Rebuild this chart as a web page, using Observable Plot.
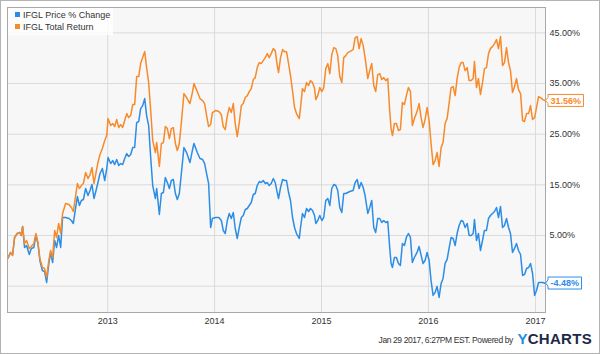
<!DOCTYPE html>
<html><head><meta charset="utf-8">
<script src="https://cdn.jsdelivr.net/npm/d3@7"></script>
<script src="https://cdn.jsdelivr.net/npm/@observablehq/plot@0.6"></script>
<style>
  body { margin: 0; background: #fff; }
  #wrap { position: relative; width: 600px; height: 354px; overflow: hidden; font-family: "Liberation Sans", Arial, sans-serif; }
  #chart { position: absolute; left: 0; top: 0; }
  #border { position: absolute; left: 0; top: 0; width: 600px; height: 354px; box-sizing: border-box; border: 1px solid #b4b4b4; pointer-events: none; }
  #legend { position: absolute; left: 8px; top: 8px; width: 105px; height: 27px; background: rgba(255,255,255,0.8); font-size: 9px; color: #333; }
  .li { position: absolute; left: 7px; height: 11px; line-height: 11px; white-space: nowrap; }
  .sw { display: inline-block; width: 5px; height: 5px; margin-right: 3px; vertical-align: 1px; }
  #caption { position: absolute; right: 8px; top: 330px; height: 16px; white-space: nowrap; }
  #stamp { font-family: "Liberation Sans", Arial, sans-serif; font-size: 8.5px; letter-spacing: -0.4px; color: #333; vertical-align: 1px; }
  #logo { font-family: "Liberation Sans", Arial, sans-serif; font-weight: bold; font-size: 15px; letter-spacing: 0.3px; }
</style>
</head><body>
<div id="wrap">
  <div id="chart"></div>
  <div id="legend"></div>
  <div id="caption"><span id="stamp"></span> <span id="logo"><span style="color:#1e8fe1">Y</span><span style="color:#1c2a48">CHARTS</span></span></div>
  <div id="border"></div>
</div>
<script>
// ---- data (decimal years, values in %) ----
const years = [
2012.068,2012.093,2012.112,2012.131,2012.156,2012.180,2012.193,2012.206,2012.224,2012.243,
2012.268,2012.287,2012.311,2012.330,2012.349,2012.367,2012.390,2012.411,2012.430,2012.451,
2012.467,2012.486,2012.505,2012.523,2012.542,2012.561,2012.579,2012.607,2012.638,2012.661,
2012.679,2012.701,2012.717,2012.736,2012.754,2012.773,2012.794,2012.816,2012.835,2012.853,
2012.872,2012.891,2012.909,2012.928,2012.950,2012.972,2012.991,2013.003,2013.028,2013.047,
2013.065,2013.084,2013.103,2013.121,2013.140,2013.159,2013.178,2013.196,2013.215,2013.234,
2013.252,2013.271,2013.290,2013.308,2013.327,2013.346,2013.364,2013.383,2013.402,2013.421,
2013.446,2013.458,2013.483,2013.502,2013.521,2013.539,2013.558,2013.577,2013.595,2013.614,
2013.633,2013.651,2013.670,2013.689,2013.713,2013.738,2013.769,2013.792,2013.807,2013.838,
2013.863,2013.888,2013.907,2013.925,2013.944,2013.963,2013.979,2014.009,2014.040,2014.063,
2014.081,2014.100,2014.119,2014.137,2014.156,2014.175,2014.193,2014.212,2014.231,2014.250,
2014.268,2014.287,2014.306,2014.324,2014.343,2014.362,2014.380,2014.399,2014.418,2014.436,
2014.455,2014.474,2014.493,2014.511,2014.530,2014.549,2014.567,2014.586,2014.598,2014.617,
2014.636,2014.654,2014.673,2014.692,2014.710,2014.729,2014.748,2014.766,2014.792,2014.804,
2014.822,2014.841,2014.860,2014.879,2014.897,2014.916,2014.935,2014.947,2014.965,2014.984,
2015.003,2015.021,2015.040,2015.059,2015.078,2015.096,2015.115,2015.134,2015.152,2015.171,
2015.190,2015.208,2015.227,2015.246,2015.264,2015.296,2015.315,2015.334,2015.352,2015.371,
2015.390,2015.408,2015.433,2015.451,2015.470,2015.489,2015.507,2015.526,2015.545,2015.564,
2015.582,2015.601,2015.620,2015.638,2015.651,2015.664,2015.682,2015.701,2015.720,2015.738,
2015.757,2015.776,2015.794,2015.813,2015.832,2015.850,2015.869,2015.894,2015.913,2015.932,
2015.950,2015.969,2015.988,2016.007,2016.025,2016.044,2016.063,2016.081,2016.100,2016.119,
2016.137,2016.156,2016.175,2016.193,2016.212,2016.231,2016.250,2016.268,2016.287,2016.306,
2016.324,2016.343,2016.362,2016.380,2016.399,2016.418,2016.430,2016.449,2016.467,2016.486,
2016.505,2016.523,2016.542,2016.561,2016.579,2016.598,2016.617,2016.636,2016.654,2016.673,
2016.692,2016.710,2016.729,2016.748,2016.766,2016.785,2016.804,2016.822,2016.841,2016.860,
2016.879,2016.897,2016.916,2016.935,2016.953,2016.972,2016.991,2017.009,2017.028,2017.047,
2017.068,2017.093
];
const priceChange = [
0.46,1.65,1.06,4.61,5.39,5.59,5.00,6.78,2.63,3.03,
1.25,2.44,2.63,5.00,3.42,0.07,-1.90,-2.10,-4.27,-0.52,
1.65,-0.33,4.01,2.63,5.00,2.63,8.55,8.55,8.35,7.96,
7.37,10.52,12.69,10.92,11.90,12.10,14.27,12.89,13.88,15.06,
12.30,13.88,15.45,17.23,18.22,15.85,18.22,20.38,19.20,19.79,
19.00,19.99,18.81,19.20,19.00,20.19,21.17,20.58,20.98,22.36,
22.36,27.29,27.49,30.05,30.64,32.02,28.67,26.70,20.38,14.86,
12.30,14.27,9.14,13.28,13.48,16.44,15.45,14.27,15.85,16.05,
13.28,12.10,13.28,17.23,22.36,21.37,19.40,21.77,23.15,21.37,
20.19,19.99,19.20,17.23,15.26,6.58,8.35,8.55,8.55,7.96,
5.99,5.39,7.96,9.34,8.35,9.54,6.38,4.41,6.58,8.55,
8.94,10.13,10.33,10.92,11.51,13.09,13.28,14.86,15.65,15.45,
15.85,15.26,15.45,14.86,15.26,16.24,15.45,13.48,12.30,14.47,
16.05,15.85,15.85,13.48,11.90,8.55,6.58,5.39,4.41,6.58,
9.34,8.55,10.33,9.73,10.33,9.93,8.94,7.37,7.96,8.94,
7.96,8.55,11.90,12.30,10.92,14.27,15.06,14.86,13.88,10.52,
9.54,13.28,13.28,13.48,13.68,13.88,15.45,16.05,14.27,15.45,
14.47,12.89,9.34,10.52,11.90,6.58,5.59,8.35,8.35,7.56,
7.96,7.56,7.76,2.63,-0.52,-1.31,0.66,0.66,-0.52,-0.92,
3.42,3.03,4.61,5.39,4.61,-0.33,0.66,1.65,2.83,1.06,
-0.52,0.07,1.65,0.07,-3.88,-6.83,-6.24,-5.06,-7.23,-4.47,
-3.48,-0.52,0.27,2.44,4.61,4.41,3.03,5.39,6.97,7.96,
7.76,6.58,7.37,5.00,5.00,5.39,8.16,4.01,5.39,2.04,
4.01,5.99,5.99,8.35,8.94,9.34,9.73,10.52,8.55,10.72,
6.58,6.97,8.35,6.58,5.39,1.65,2.44,3.42,2.04,1.25,
-2.89,-2.69,-1.51,-1.31,-0.52,-2.50,-6.83,-5.85,-4.27,-4.27,
-4.27,-4.48
];
const totalReturn = [
0.46,1.65,1.06,4.61,5.39,5.59,5.00,6.78,3.42,4.01,
2.44,2.83,3.42,5.39,3.62,0.46,-1.31,-1.51,-3.28,0.07,
2.04,0.66,5.99,4.61,7.37,5.39,9.34,11.31,11.11,10.52,
9.73,12.89,15.26,14.27,14.86,15.26,17.43,16.24,17.03,18.41,
15.26,17.43,19.40,20.98,22.16,23.74,24.72,28.08,26.70,27.09,
26.50,27.88,26.30,26.89,26.30,27.68,29.06,28.27,28.67,30.84,
30.84,36.36,36.36,38.93,40.11,41.29,38.14,35.18,29.66,23.74,
21.37,23.34,18.61,23.15,23.34,26.50,26.10,24.13,26.10,26.30,
23.15,21.77,23.15,27.29,33.01,32.22,31.04,33.21,34.98,33.40,
32.02,31.63,31.04,28.67,26.50,26.89,29.26,29.66,29.46,28.87,
26.50,25.91,28.67,30.25,29.26,31.04,27.09,24.53,27.29,30.64,
31.04,32.22,32.61,33.40,33.99,35.77,36.16,38.14,39.12,38.93,
39.52,40.11,40.90,40.11,40.90,41.88,41.49,38.53,37.15,40.11,
41.69,41.29,41.29,38.93,36.56,33.60,30.25,29.06,28.08,30.25,
33.99,33.40,35.18,34.59,35.57,35.18,33.99,31.82,32.61,34.19,
33.40,34.19,37.94,38.93,36.95,40.70,42.08,41.88,40.50,36.36,
35.18,40.11,40.50,41.09,41.29,41.69,44.05,44.25,41.88,43.86,
42.48,40.11,35.97,37.54,38.93,34.59,33.40,36.76,36.95,35.77,
36.16,35.57,35.97,29.66,26.10,24.72,27.09,27.09,25.71,25.91,
31.23,30.84,32.61,34.19,33.40,26.70,28.08,29.46,31.04,28.27,
26.30,27.88,30.25,27.68,23.15,19.00,19.79,21.37,18.61,22.36,
23.34,27.09,28.08,31.04,34.19,34.39,32.61,35.97,38.14,39.12,
39.12,37.54,38.14,35.57,35.57,35.97,39.32,34.19,35.97,32.81,
35.18,37.94,38.14,40.90,41.88,42.28,42.87,43.66,41.88,44.25,
38.53,39.12,42.08,39.12,37.54,33.21,34.39,35.97,33.80,33.01,
27.68,27.49,29.06,29.06,30.64,27.88,28.27,30.25,32.42,32.22,
31.82,31.56
];
const seriesNames = ["IFGL Price % Change", "IFGL Total Return"];
const seriesColors = ["#2b8de6", "#f78a2a"];
const xTickYears = [2013, 2014, 2015, 2016, 2017];
const yTickLabels = [5, 15, 25, 35, 45];
const yGridValues = [-5, 5, 15, 25, 35, 45];
const xDomainYears = [2012.065, 2017.093];
const yDomain = [-10.2, 50];
const stampText = "Jan 29 2017, 6:27PM EST.  Powered by";

function toDate(y) {
  const yr = Math.floor(y);
  const a = Date.UTC(yr, 0, 1), b = Date.UTC(yr + 1, 0, 1);
  return new Date(a + (y - yr) * (b - a));
}
const rows = years.map((y, i) => ({date: toDate(y), price: priceChange[i], total: totalReturn[i]}));
const yearTicks = xTickYears.map(y => new Date(Date.UTC(y, 0, 1)));

const chart = Plot.plot({
  width: 600, height: 354,
  marginLeft: 7, marginRight: 55, marginTop: 7, marginBottom: 42,
  style: {fontFamily: "'Liberation Sans', Arial, sans-serif", fontSize: "9px", color: "#333", background: "transparent", overflow: "visible"},
  x: {type: "utc", domain: xDomainYears.map(toDate), label: null},
  y: {domain: yDomain, label: null},
  marks: [
    Plot.frame({fill: "#f7f7f7", stroke: "none"}),
    Plot.gridX(yearTicks, {stroke: "#dadada", strokeOpacity: 1}),
    Plot.gridY(yGridValues, {stroke: "#dadada", strokeOpacity: 1}),
    Plot.axisX(yearTicks, {tickSize: 0, tickPadding: 5, tickFormat: d => String(d.getUTCFullYear())}),
    Plot.axisY(yTickLabels, {anchor: "right", tickSize: 0, tickPadding: 4, tickFormat: v => v.toFixed(2) + "%"}),
    Plot.line(rows, {x: "date", y: "price", stroke: seriesColors[0], strokeWidth: 1.5}),
    Plot.line(rows, {x: "date", y: "total", stroke: seriesColors[1], strokeWidth: 1.5}),
    Plot.frame({stroke: "#a8a8a8"})
  ]
});
document.getElementById("chart").appendChild(chart);

// end-value labels positioned with the plot's scales
const xs = chart.scale("x"), ys = chart.scale("y");
const svg = d3.select(chart);
const last = rows[rows.length - 1];
[[last.total, seriesColors[1]], [last.price, seriesColors[0]]].forEach(([v, c]) => {
  const x0 = xs.apply(last.date), y0 = ys.apply(v);
  const g = svg.append("g");
  const path = g.append("path");
  const t = g.append("text")
    .attr("y", y0).attr("dy", "0.35em")
    .attr("text-anchor", "start")
    .attr("fill", c).attr("font-weight", "bold").attr("font-size", 9)
    .attr("font-family", "'Liberation Sans', Arial, sans-serif")
    .text(v.toFixed(2) + "%");
  const w = t.node().getComputedTextLength() + 5;
  const bx = x0 + 3, h = 12;
  t.attr("x", bx + 2.5);
  path.attr("d", `M${x0 + 0.5},${y0} L${bx},${y0 - 3} L${bx},${y0 - h / 2} L${bx + w},${y0 - h / 2} L${bx + w},${y0 + h / 2} L${bx},${y0 + h / 2} L${bx},${y0 + 3} Z`)
    .attr("fill", "#fff").attr("stroke", c).attr("stroke-width", 1);
});

// legend
const legend = document.getElementById("legend");
seriesNames.forEach((n, i) => {
  const d = document.createElement("div");
  d.className = "li";
  d.style.top = (2 + i * 12) + "px";
  d.innerHTML = `<span class="sw" style="background:${seriesColors[i]}"></span>${n}`;
  legend.appendChild(d);
});
document.getElementById("stamp").textContent = stampText;
</script>
</body></html>
